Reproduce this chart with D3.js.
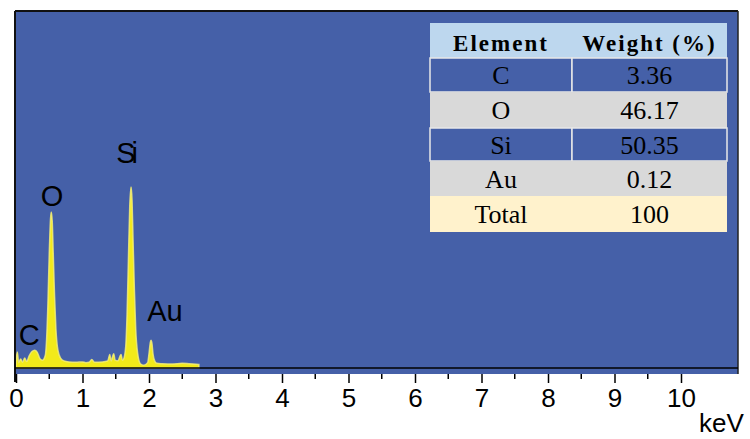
<!DOCTYPE html>
<html>
<head>
<meta charset="utf-8">
<script src="https://cdn.jsdelivr.net/npm/d3@7"></script>
<style>
  body { margin: 0; background: #ffffff; }
  svg { display: block; }
</style>
</head>
<body>
<div id="chart"></div>
<script>

// spectrum: [keV, counts (arbitrary, 0-100)]
var spectrum = [
  [0.00, 2.0], [0.02, 4.5], [0.04, 1.5], [0.07, 2.5], [0.10, 1.6], [0.13, 2.8],
  [0.16, 1.8], [0.20, 3.5], [0.24, 4.6], [0.28, 5.0], [0.32, 4.4], [0.36, 2.6],
  [0.40, 2.2], [0.44, 3.5], [0.46, 8.0], [0.48, 18], [0.50, 32], [0.52, 42],
  [0.53, 43.7], [0.545, 41], [0.56, 32], [0.58, 20], [0.60, 11], [0.63, 5],
  [0.67, 2.8], [0.72, 2.0], [0.80, 1.7], [0.90, 1.6], [1.00, 1.7], [1.05, 1.5],
  [1.10, 1.6], [1.14, 2.4], [1.18, 1.6], [1.30, 1.7], [1.38, 2.0], [1.41, 3.8],
  [1.43, 2.0], [1.47, 4.0], [1.49, 2.2], [1.53, 2.0], [1.58, 3.8], [1.60, 2.2],
  [1.62, 2.6], [1.65, 6], [1.67, 15], [1.69, 30], [1.71, 45], [1.73, 50.7],
  [1.745, 47], [1.76, 36], [1.78, 22], [1.80, 11], [1.83, 4], [1.87, 1.2],
  [1.92, 0.8], [1.98, 1.5], [2.00, 4], [2.02, 7.2], [2.03, 7.8], [2.045, 6.8],
  [2.06, 4], [2.09, 1.8], [2.12, 1.3], [2.20, 1.2], [2.35, 1.1], [2.50, 1.3],
  [2.60, 1.2], [2.75, 1.0]
];

// peak labels: [name, keV, counts]
var peakLabels = [["C", 0.20, 6.4], ["O", 0.54, 45.4], ["Si", 1.64, 57.4], ["Au", 2.24, 13.2]];

// x ticks
var majorTicks = [0, 1, 2, 3, 4, 5, 6, 7, 8, 9, 10];
var minorTicks = [0.5, 1.5, 2.5, 3.5, 4.5, 5.5, 6.5, 7.5, 8.5, 9.5];

// composition table
var tableHeader = ["Element", "Weight (%)"];
var elements = ["C", "O", "Si", "Au", "Total"];
var weights = ["3.36", "46.17", "50.35", "0.12", "100"];
var rowColors = ["#4560a8", "#d9d9d9", "#4560a8", "#d9d9d9", "#fff2cc"];

function drawChart () {

	var width = 750, height = 439;
	var plotTop = 11, plotBottom = 374, plotLeft = 15, plotRight = 738;
	var axisY = 368;

	var x = d3.scaleLinear().domain([0, 10]).range([16, 681]);
	var y = d3.scaleLinear().domain([0, 100]).range([axisY, plotTop]);

	var svg = d3.select("#chart")
		.append("svg")
			.attr("width", width)
			.attr("height", height);

	// blue plot area
	svg.append("rect")
			.attr("x", plotLeft)
			.attr("y", plotTop)
			.attr("width", plotRight - plotLeft)
			.attr("height", plotBottom - plotTop)
			.attr("fill", "#4560a8");

	// spectrum
	var area = d3.area()
		.x(function (d) { return x(d[0]); })
		.y0(y(0))
		.y1(function (d) { return y(d[1]); })
		.curve(d3.curveMonotoneX);

	svg.append("path")
			.datum(spectrum)
			.attr("d", area)
			.attr("fill", "#f2ea1a")
			.attr("stroke", "#f6f07a")
			.attr("stroke-width", 1.5)
			.attr("stroke-opacity", 0.8);

	// frame lines
	svg.append("line")
			.attr("x1", plotLeft).attr("x2", plotRight)
			.attr("y1", plotTop).attr("y2", plotTop)
			.attr("stroke", "#111").attr("stroke-width", 2);
	svg.append("line")
			.attr("x1", plotLeft).attr("x2", plotLeft)
			.attr("y1", plotTop).attr("y2", 382)
			.attr("stroke", "#111").attr("stroke-width", 2);
	svg.append("line")
			.attr("x1", plotRight).attr("x2", plotRight)
			.attr("y1", plotTop).attr("y2", plotBottom)
			.attr("stroke", "#222").attr("stroke-width", 1.5);
	svg.append("line")
			.attr("x1", plotLeft).attr("x2", plotRight)
			.attr("y1", axisY).attr("y2", axisY)
			.attr("stroke", "#000").attr("stroke-width", 1.5);

	// x axis
	var axis = svg.append("g")
			.attr("transform", "translate(0," + plotBottom + ")")
			.call(d3.axisBottom(x).tickValues(majorTicks).tickSize(9).tickPadding(6).tickFormat(d3.format("d")));
	axis.select(".domain").remove();
	axis.selectAll(".tick line").attr("stroke", "#000").attr("stroke-width", 1.5);
	axis.selectAll(".tick text")
			.attr("fill", "#000")
			.style("font-family", "'Liberation Sans', Arial, sans-serif")
			.style("font-size", "26px");

	svg.append("g").selectAll("line")
		.data(minorTicks)
		.enter().append("line")
			.attr("x1", function (d) { return x(d); })
			.attr("x2", function (d) { return x(d); })
			.attr("y1", plotBottom)
			.attr("y2", plotBottom + 5)
			.attr("stroke", "#000")
			.attr("stroke-width", 1.5);

	svg.append("text")
			.attr("x", 699)
			.attr("y", 432)
			.attr("fill", "#000")
			.style("font-family", "'Liberation Sans', Arial, sans-serif")
			.style("font-size", "26px")
			.text("keV");

	// peak labels
	svg.append("g").selectAll("text")
		.data(peakLabels)
		.enter().append("text")
			.attr("x", function (d) { return x(d[1]); })
			.attr("y", function (d) { return y(d[2]); })
			.attr("text-anchor", "middle")
			.attr("fill", "#000")
			.attr("letter-spacing", function (d) { return d[0] === "Si" ? "-4px" : "0px"; })
			.style("font-family", "'Liberation Sans', Arial, sans-serif")
			.style("font-size", "29px")
			.text(function (d) { return d[0]; });

	// composition table
	var tx = 430, tw = 297, colSplit = 572;
	var rowEdges = [23, 58, 92, 128, 161, 196, 232];
	var table = svg.append("g");

	table.append("rect")
			.attr("x", tx).attr("y", rowEdges[0])
			.attr("width", tw).attr("height", rowEdges[1] - rowEdges[0])
			.attr("fill", "#bdd7ee");

	table.selectAll(".head")
		.data(tableHeader)
		.enter().append("text")
			.attr("class", "head")
			.attr("x", function (d, i) { return i === 0 ? (tx + colSplit) / 2 : (colSplit + tx + tw) / 2; })
			.attr("y", 51)
			.attr("text-anchor", "middle")
			.attr("fill", "#000")
			.attr("letter-spacing", "2px")
			.style("font-family", "'Liberation Serif', 'Times New Roman', serif")
			.style("font-weight", "bold")
			.style("font-size", "23px")
			.text(function (d) { return d; });

	var rows = table.selectAll(".row")
		.data(elements)
		.enter().append("g")
			.attr("class", "row");

	rows.each(function (d, i) {
		var g = d3.select(this);
		var top = rowEdges[i + 1], bottom = rowEdges[i + 2];
		var isBlue = rowColors[i] === "#4560a8";
		[[tx, colSplit], [colSplit, tx + tw]].forEach(function (c) {
			g.append("rect")
					.attr("x", c[0]).attr("y", top)
					.attr("width", c[1] - c[0]).attr("height", bottom - top)
					.attr("fill", rowColors[i])
					.attr("stroke", isBlue ? "#e8e8e8" : "none")
					.attr("stroke-width", 1.5);
		});
		[elements[i], weights[i]].forEach(function (t, j) {
			g.append("text")
					.attr("x", j === 0 ? (tx + colSplit) / 2 : (colSplit + tx + tw) / 2)
					.attr("y", (top + bottom) / 2 + 9)
					.attr("text-anchor", "middle")
					.attr("fill", "#000")
					.style("font-family", "'Liberation Serif', 'Times New Roman', serif")
					.style("font-size", "26px")
					.text(t);
		});
	});
}

drawChart();
</script>
</body>
</html>
